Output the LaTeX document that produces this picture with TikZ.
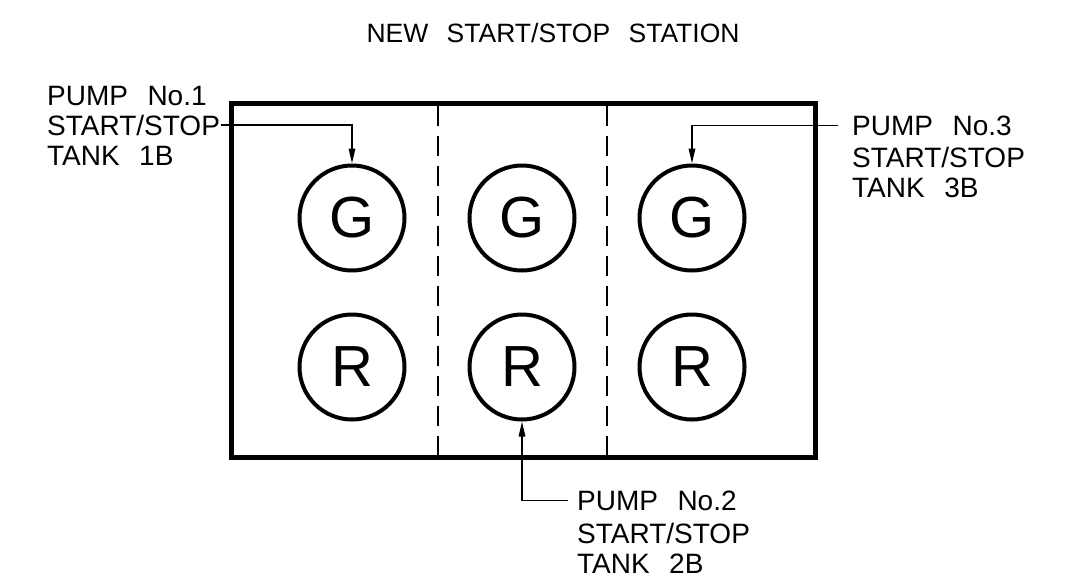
\documentclass[tikz,border=0pt]{standalone}
\usepackage{fontspec}
\setmainfont{Liberation Sans}[WordSpace=2.5]
\usetikzlibrary{arrows.meta}
\begin{document}
\begin{tikzpicture}[x=1pt,y=-1pt,
  lbl/.style={inner sep=0pt, anchor=base west, font=\fontsize{28}{30}\selectfont},
  lamp/.style={circle, draw, line width=4pt, minimum size=105pt, inner sep=0pt, font=\fontsize{58}{60}\selectfont},
  lead/.style={line width=1.6pt, -{Triangle[length=15pt,width=6.5pt]}},
  panel/.style={line width=5pt},
  divider/.style={line width=1.6pt, dash pattern=on 20pt off 10pt}]
\useasboundingbox (0,0) rectangle (1067,582);
% title
\node[lbl, anchor=base, font=\fontsize{26.5}{30}\selectfont] (title) at (553,42) {NEW START/STOP STATION};
% panel
\draw[panel] (231,103) rectangle (815,457);
\coordinate (d1t) at (438,106); \coordinate (d1b) at (438,455);
\coordinate (d2t) at (607,106); \coordinate (d2b) at (607,455);
\draw[divider] (d1t) -- (d1b);
\draw[divider] (d2t) -- (d2b);
% lamps
\node[lamp] (g1) at (352,218) {G};
\node[lamp] (g2) at (522,218) {G};
\node[lamp] (g3) at (692,218) {G};
\node[lamp] (r1) at (352,367) {R};
\node[lamp] (r2) at (522,367) {R};
\node[lamp] (r3) at (692,367) {R};
% left label
\node[lbl] (la) at (47,105) {PUMP No.1};
\node[lbl] (lb) at (47,135) {START/STOP};
\node[lbl] (lc) at (47,165) {TANK 1B};
% right label
\node[lbl] (ra) at (852,135) {PUMP No.3};
\node[lbl] (rb) at (852,167) {START/STOP};
\node[lbl] (rc) at (852,197) {TANK 3B};
% bottom label
\node[lbl] (ba) at (577,510) {PUMP No.2};
\node[lbl] (bb) at (577,543) {START/STOP};
\node[lbl] (bc) at (577,573) {TANK 2B};
% leaders
\draw[lead] ([xshift=1pt]lb.east) -| (g1.north);
\draw[lead] ([xshift=-14pt]ra.west) -| (g3.north);
\draw[lead] ([xshift=-9pt]ba.west) -| (r2.south);
\end{tikzpicture}
\end{document}
